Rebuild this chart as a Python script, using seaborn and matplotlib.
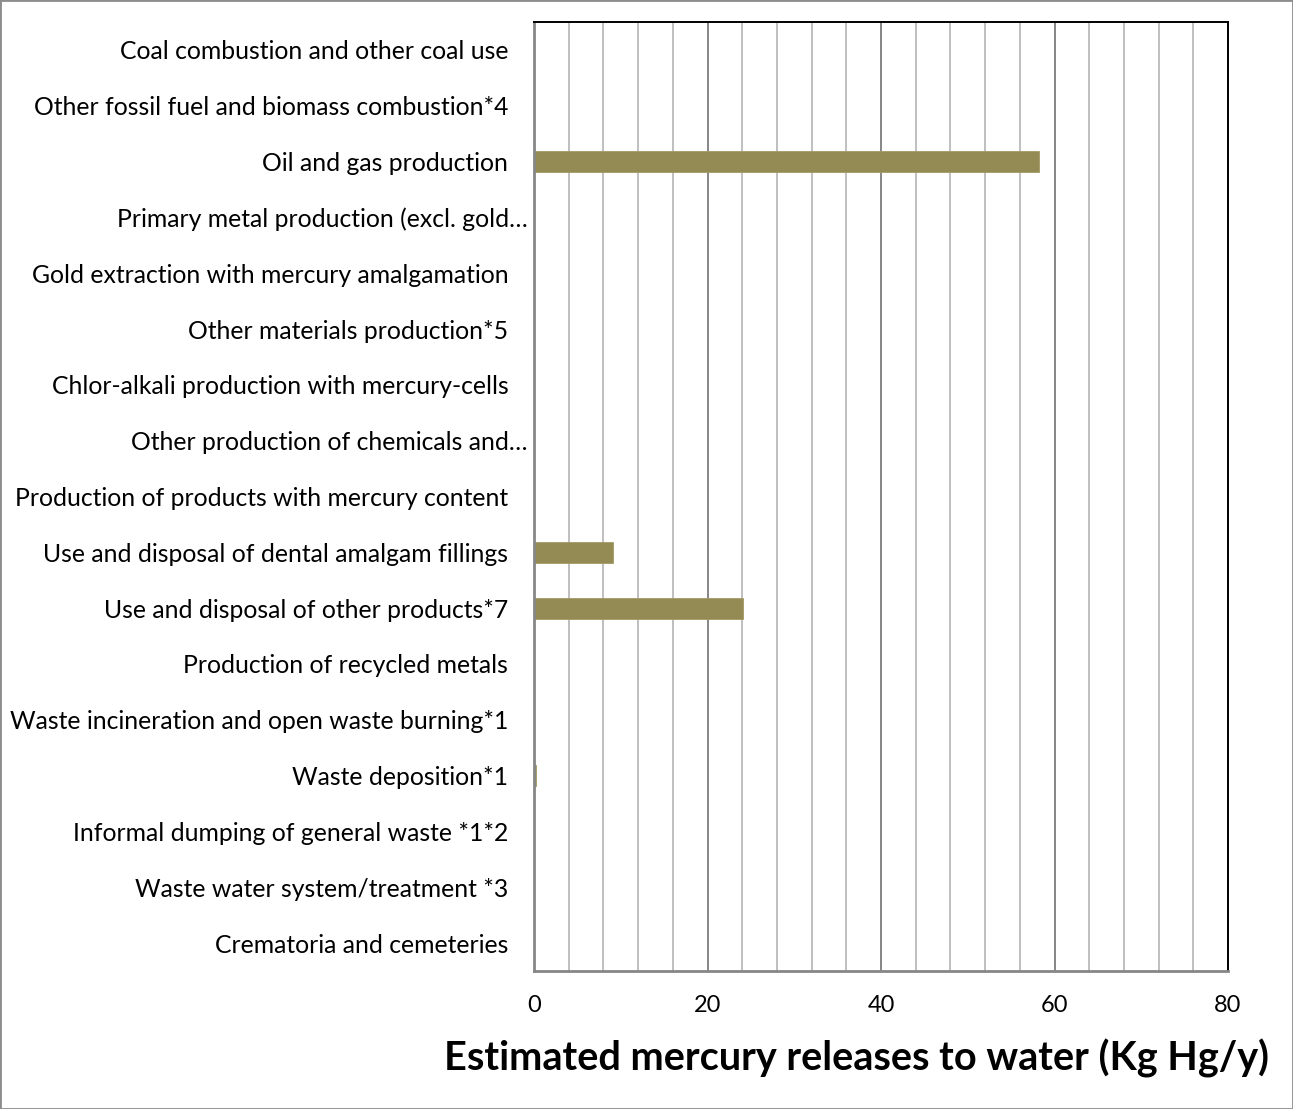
import matplotlib
matplotlib.use("Agg")
import matplotlib.pyplot as plt
import matplotlib.patches as mpatches
import matplotlib.transforms as mtransforms
from matplotlib.ticker import MultipleLocator
import seaborn as sns
import pandas as pd

categories = [
    "Coal combustion and other coal use",
    "Other fossil fuel and biomass combustion*4",
    "Oil and gas production",
    "Primary metal production (excl. gold\u2026",
    "Gold extraction with mercury amalgamation",
    "Other materials production*5",
    "Chlor-alkali production with mercury-cells",
    "Other production of chemicals and\u2026",
    "Production of products with mercury content",
    "Use and disposal of dental amalgam fillings",
    "Use and disposal of other products*7",
    "Production of recycled metals",
    "Waste incineration and open waste burning*1",
    "Waste deposition*1",
    "Informal dumping of general waste *1*2",
    "Waste water system/treatment *3",
    "Crematoria and cemeteries",
]
releases = [0, 0, 58.2, 0, 0, 0, 0, 0, 0, 9.1, 24.1, 0, 0, 0.25, 0, 0, 0]

df = pd.DataFrame({"source": categories, "kg": releases})

sns.set_theme(style="white")
plt.rcParams["font.family"] = ["Lato", "DejaVu Sans"]

fig = plt.figure(figsize=(12.93, 11.09), dpi=100)
ax = fig.add_axes([534 / 1293, 1 - 971 / 1109, (1228 - 534) / 1293, (971 - 22) / 1109])

sns.barplot(data=df, x="kg", y="source", orient="h", color="#948A54",
            saturation=1, width=0.38, edgecolor="#A39A66", linewidth=0.6, ax=ax)

ax.set_xlim(0, 80)
ax.xaxis.set_major_locator(MultipleLocator(20))
ax.xaxis.set_minor_locator(MultipleLocator(4))
ax.grid(True, which="minor", axis="x", color="#BFBFBF", linewidth=1.4)
ax.grid(True, which="major", axis="x", color="#868686", linewidth=1.4)
ax.set_axisbelow(True)

ax.tick_params(axis="x", which="both", length=0, labelsize=17, pad=17, colors="black")
ax.tick_params(axis="y", length=0, labelsize=17.8, pad=18.5, colors="black")
ax.set_ylabel("")
ax.set_xlabel("Estimated mercury releases to water (Kg Hg/y)",
              fontsize=28.5, fontweight="bold", color="black")
ax.xaxis.set_label_coords((856 - 534) / (1228 - 534), -0.071)

for side in ("top", "right"):
    ax.spines[side].set_color("#000000")
    ax.spines[side].set_linewidth(1.4)
for side in ("left", "bottom"):
    ax.spines[side].set_color("#868686")
    ax.spines[side].set_linewidth(2)
    ax.spines[side].set_visible(True)

# shortened category names overhang toward the plot area
shift = mtransforms.ScaledTranslation(19 / 100, 0, fig.dpi_scale_trans)
for lbl in ax.get_yticklabels():
    if lbl.get_text().endswith("\u2026"):
        lbl.set_transform(lbl.get_transform() + shift)

fig.patches.append(mpatches.Rectangle((0, 0), 1, 1, transform=fig.transFigure,
                                      fill=False, edgecolor="#8C8C8C", linewidth=2))

fig.savefig("out.png", dpi=100, facecolor="white")
